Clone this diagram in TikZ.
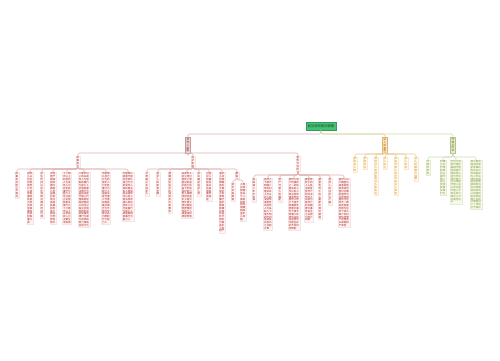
\documentclass[tikz,border=0pt]{standalone}
\usepackage{fontspec}
\newfontfamily\cjk{Noto Sans CJK SC}
\usetikzlibrary{calc}
\XeTeXlinebreaklocale "zh"
\XeTeXlinebreakskip=0pt plus 0.5pt
\definecolor{rtext}{HTML}{B01E1E}
\definecolor{rfill}{HTML}{FDF5F5}
\definecolor{rdraw}{HTML}{F6E4E4}
\definecolor{rline}{HTML}{E0B0B0}
\definecolor{rlfill}{HTML}{EAD6D6}
\definecolor{rldraw}{HTML}{C79B9B}
\definecolor{rltext}{HTML}{7A2020}
\definecolor{otext}{HTML}{E08A10}
\definecolor{ofill}{HTML}{FFF9EF}
\definecolor{odraw}{HTML}{F8E9CE}
\definecolor{oline}{HTML}{EBCB96}
\definecolor{olfill}{HTML}{FBE4C0}
\definecolor{oldraw}{HTML}{E6B46A}
\definecolor{oltext}{HTML}{8A5200}
\definecolor{gtext}{HTML}{7A9A30}
\definecolor{gfill}{HTML}{F6F9EC}
\definecolor{gdraw}{HTML}{E4EBCE}
\definecolor{gline}{HTML}{CFDBAC}
\definecolor{glfill}{HTML}{E2EACD}
\definecolor{gldraw}{HTML}{B3C488}
\definecolor{gltext}{HTML}{4F6418}
\definecolor{rootfill}{HTML}{45C074}
\definecolor{rootdraw}{HTML}{2E9E58}
\definecolor{roottext}{HTML}{173F25}
\tikzset{
  base/.style={anchor=north, inner sep=0.7pt, line width=0.3pt, align=left,
    font=\cjk\fontsize{2.5}{2.85}\selectfont},
  c1/.style={text width=2.6pt},
  c2/.style={text width=5.1pt},
  c3/.style={text width=7.6pt},
  c4/.style={text width=10.1pt},
  rleaf/.style={base, fill=rfill, draw=rdraw, text=rtext},
  oleaf/.style={base, fill=ofill, draw=odraw, text=otext},
  gleaf/.style={base, fill=gfill, draw=gdraw, text=gtext},
  rmain/.style={base, c1, inner sep=1.2pt, fill=rlfill, draw=rldraw, text=rltext},
  omain/.style={base, c1, inner sep=1.2pt, fill=olfill, draw=oldraw, text=oltext},
  gmain/.style={base, c1, inner sep=1.2pt, fill=glfill, draw=gldraw, text=gltext},
  rootbox/.style={anchor=north, fill=rootfill, draw=rootdraw, line width=0.4pt,
    text=roottext, inner xsep=1.6pt, inner ysep=2.6pt,
    font=\cjk\fontsize{3.3}{3.6}\selectfont},
  rl/.style={draw=rline, line width=0.6pt, rounded corners=1.5pt},
  ol/.style={draw=oline, line width=0.6pt, rounded corners=1.5pt},
  gl/.style={draw=gline, line width=0.6pt, rounded corners=1.5pt},
}
\newcommand\conn[3]{\draw[#3] (#1.south) |- ($(#2.north)+(0,3pt)$) -- (#2.north);}
\begin{document}
\begin{tikzpicture}[x=1pt,y=-1pt]
\fill[white] (0,0) rectangle (500,360);
\useasboundingbox (0,0) rectangle (500,360);
% root and level 1
\node[rootbox] (root) at (321,122) {民法总则知识梳理};
\node[rmain] (R) at (188,137) {自然人制度};
\node[omain] (O) at (385,137) {法人的类型};
\node[gmain] (G) at (453,137) {代理与时效};
% red level 2
\node[rleaf,c1] (Ra) at (78,156) {民事能力};
\node[rleaf,c1] (Rb) at (193,156) {监护制度};
\node[rleaf,c1] (Rc) at (298,156) {宣告与住所};
% red a children
\node[rleaf,c1] (a1) at (17,172) {民事权利能力平等性};
\node[rleaf,c2] (a2) at (30,172) {自然人从出生时起到死亡时止具有民事权利能力依法享有民事权利承担民事义务};
\node[rleaf,c1] (a3) at (42,172) {出生时间以出生证明记载的时间为准};
\node[rleaf,c2] (a4) at (53,172) {涉及遗产继承接受赠与等胎儿利益保护的视为具有民事权利能力娩出为死体的除外};
\node[rleaf,c3] (a5) at (67,172) {十八周岁以上的自然人为成年人为完全民事行为能力人可以独立实施民事法律行为十六周岁以上以劳动收入为主要生活来源};
\node[rleaf,c4] (a6) at (84,172) {八周岁以上的未成年人为限制民事行为能力人实施民事法律行为由其法定代理人代理或者经其同意追认但可以独立实施纯获利益的民事法律行为或与其年龄智力相适应的行为};
\node[rleaf,c3] (a7) at (106,172) {不能辨认自己行为的成年人为无民事行为能力人由其法定代理人代理实施民事法律行为不能完全辨认的为限制行为能力人};
\node[rleaf,c4] (a8) at (128,172) {不能辨认或者不能完全辨认自己行为的成年人其利害关系人或者有关组织可以向人民法院申请认定该成年人为无民事行为能力人或者限制民事行为能力人};
% red b children
\node[rleaf,c1] (b1) at (147,172) {父母是子女监护人};
\node[rleaf,c1] (b2) at (158,172) {监护人的职责范围};
\node[rleaf,c1] (b3) at (170,172) {遗嘱指定监护的适用条件和要求};
\node[rleaf,c4] (b4) at (187,172) {未成年人的父母已经死亡或者没有监护能力的由下列有监护能力的人按顺序担任监护人祖父母外祖父母兄姐其他愿意担任的个人或者组织须经同意};
\node[rleaf,c1] (b5) at (199,172) {协议确定监护人员};
\node[rleaf,c2] (b6) at (209,172) {对监护人的确定有争议的由居民委员会指定};
\node[rleaf,c2] (b7) at (222,172) {监护人应当按照最有利于被监护人的原则履行监护职责除维护其利益外不得处分被监护人的财产};
\node[rleaf,c1] (b8) at (237,172) {撤销};
\node[rleaf,c1] (b8a) at (233,183) {监护资格撤销};
\node[rleaf,c2] (b8b) at (243,183) {人民法院根据有关个人或者组织的申请撤销其监护人资格};
% red c children
\node[rleaf,c1] (c1) at (254,178) {失踪满二年可申请};
\node[rleaf,c3] (c2) at (268,178) {自然人下落不明满二年的利害关系人可以向人民法院申请宣告该自然人为失踪人下落不明的时间自其失去音讯之日起计算};
\node[rleaf,c1] (c3) at (280,178) {财产代管人的确定};
\node[rleaf,c4] (c4) at (294,178) {自然人有下列情形之一的利害关系人可以向人民法院申请宣告该自然人死亡下落不明满四年因意外事件下落不明满二年经有关机关证明不可能生存的不受时间限制};
\node[rleaf,c3] (c5) at (309,178) {被宣告死亡的人人民法院宣告死亡的判决作出之日视为其死亡的日期意外事件发生之日视为死亡日期};
\node[rleaf,c1] (c6) at (320,178) {被宣告死亡的人重新出现可撤销};
\node[rleaf,c1] (c7) at (330,178) {自然人的住所为户籍};
\node[rleaf,c4] (c8) at (344,178) {自然人以户籍登记或者其他有效身份登记记载的居所为住所经常居所与住所不一致的经常居所视为住所个体工商户农村承包经营户的债务以家庭财产承担};
% orange children
\node[oleaf,c1] (o1) at (355,157) {营利法人类};
\node[oleaf,c1] (o2) at (365,157) {非营利法};
\node[oleaf,c1] (o3) at (376,157) {特别法人包括机关法人和农村};
\node[oleaf,c1] (o4) at (385,157) {法人设立};
\node[oleaf,c1] (o5) at (396,157) {法定代表人的行为由法人承担};
\node[oleaf,c1] (o6) at (406,157) {法人合并};
\node[oleaf,c1] (o7) at (416,157) {法人的解散与清算};
% green children
\node[gleaf,c1] (g1) at (428,160) {代理的种类};
\node[gleaf,c2] (g2) at (443,160) {代理人在代理权限内以被代理人名义实施民事法律行为};
\node[gleaf,c4] (g3) at (456,160) {行为人没有代理权超越代理权或者代理权终止后仍然实施代理行为未经被代理人追认的对被代理人不发生效力相对人可以催告追认};
\node[gleaf,c4] (g4) at (476,160) {向人民法院请求保护民事权利的诉讼时效期间为三年法律另有规定的依照其规定诉讼时效期间自权利人知道权利受到损害之日起计算超过二十年的不予保护};
% connectors
\conn{root}{R}{rl}
\conn{root}{O}{ol}
\conn{root}{G}{gl}
\foreach \c in {Ra,Rb,Rc} {\conn{R}{\c}{rl}}
\foreach \c in {a1,a2,a3,a4,a5,a6,a7,a8} {\conn{Ra}{\c}{rl}}
\foreach \c in {b1,b2,b3,b4,b5,b6,b7,b8} {\conn{Rb}{\c}{rl}}
\foreach \c in {b8a,b8b} {\conn{b8}{\c}{rl}}
\foreach \c in {c1,c2,c3,c4,c5,c6,c7,c8} {\conn{Rc}{\c}{rl}}
\foreach \c in {o1,o2,o3,o4,o5,o6,o7} {\conn{O}{\c}{ol}}
\foreach \c in {g1,g2,g3,g4} {\conn{G}{\c}{gl}}
\end{tikzpicture}
\end{document}
